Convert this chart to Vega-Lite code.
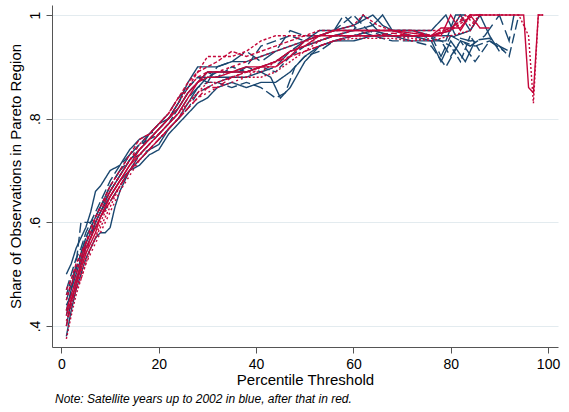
{
"$schema":"https://vega.github.io/schema/vega-lite/v6.json",
"width":506,"height":342,
"autosize":"none",
"padding":{"left":52,"top":5,"right":11,"bottom":65},
"background":"white",
"config":{"view":{"stroke":null},"font":"Liberation Sans"},
"title":{"text":"Note: Satellite years up to 2002 in blue, after that in red.","orient":"bottom","anchor":"start","frame":"group","fontSize":12,"fontStyle":"italic","fontWeight":"normal","font":"Liberation Sans","color":"#000","offset":7,"dx":3},
"data":{"values":[
{"s":"b1","x":1,"y":0.50},{"s":"b1","x":2,"y":0.52},{"s":"b1","x":3,"y":0.55},{"s":"b1","x":4,"y":0.57},{"s":"b1","x":5,"y":0.59},{"s":"b1","x":6,"y":0.62},{"s":"b1","x":7,"y":0.66},{"s":"b1","x":8,"y":0.67},{"s":"b1","x":10,"y":0.70},{"s":"b1","x":12,"y":0.71},{"s":"b1","x":14,"y":0.74},{"s":"b1","x":16,"y":0.76},{"s":"b1","x":18,"y":0.77},{"s":"b1","x":20,"y":0.79},{"s":"b1","x":22,"y":0.80},{"s":"b1","x":24,"y":0.83},{"s":"b1","x":26,"y":0.87},{"s":"b1","x":28,"y":0.90},{"s":"b1","x":30,"y":0.90},{"s":"b1","x":32,"y":0.90},{"s":"b1","x":35,"y":0.91},{"s":"b1","x":38,"y":0.91},{"s":"b1","x":41,"y":0.92},{"s":"b1","x":44,"y":0.93},{"s":"b1","x":47,"y":0.94},{"s":"b1","x":50,"y":0.95},{"s":"b1","x":53,"y":0.97},{"s":"b1","x":56,"y":0.97},{"s":"b1","x":60,"y":0.98},{"s":"b1","x":64,"y":1.0},{"s":"b1","x":66,"y":0.98},{"s":"b1","x":68,"y":0.97},{"s":"b1","x":72,"y":0.97},{"s":"b1","x":76,"y":0.97},{"s":"b1","x":79,"y":1.0},{"s":"b1","x":81,"y":0.96},{"s":"b1","x":84,"y":0.97},{"s":"b1","x":86,"y":1.0},
{"s":"b2","x":1,"y":0.42},{"s":"b2","x":2,"y":0.47},{"s":"b2","x":3,"y":0.52},{"s":"b2","x":4,"y":0.60},{"s":"b2","x":5,"y":0.60},{"s":"b2","x":6,"y":0.60},{"s":"b2","x":7,"y":0.61},{"s":"b2","x":8,"y":0.63},{"s":"b2","x":10,"y":0.66},{"s":"b2","x":12,"y":0.69},{"s":"b2","x":14,"y":0.72},{"s":"b2","x":16,"y":0.73},{"s":"b2","x":18,"y":0.74},{"s":"b2","x":20,"y":0.76},{"s":"b2","x":22,"y":0.78},{"s":"b2","x":24,"y":0.80},{"s":"b2","x":26,"y":0.82},{"s":"b2","x":28,"y":0.85},{"s":"b2","x":30,"y":0.86},{"s":"b2","x":32,"y":0.87},{"s":"b2","x":35,"y":0.86},{"s":"b2","x":38,"y":0.87},{"s":"b2","x":41,"y":0.86},{"s":"b2","x":44,"y":0.84},{"s":"b2","x":46,"y":0.85},{"s":"b2","x":48,"y":0.90},{"s":"b2","x":50,"y":0.92},{"s":"b2","x":53,"y":0.93},{"s":"b2","x":56,"y":0.95},{"s":"b2","x":60,"y":0.96},{"s":"b2","x":64,"y":0.96},{"s":"b2","x":68,"y":0.95},{"s":"b2","x":72,"y":0.95},{"s":"b2","x":76,"y":0.94},{"s":"b2","x":79,"y":0.90},{"s":"b2","x":82,"y":0.95},{"s":"b2","x":85,"y":0.94},{"s":"b2","x":88,"y":0.95},{"s":"b2","x":90,"y":0.94},{"s":"b2","x":92,"y":0.92},{"s":"b2","x":94,"y":1.0},
{"s":"b3","x":1,"y":0.38},{"s":"b3","x":2,"y":0.43},{"s":"b3","x":3,"y":0.47},{"s":"b3","x":4,"y":0.50},{"s":"b3","x":5,"y":0.53},{"s":"b3","x":6,"y":0.55},{"s":"b3","x":7,"y":0.57},{"s":"b3","x":8,"y":0.58},{"s":"b3","x":9,"y":0.58},{"s":"b3","x":10,"y":0.59},{"s":"b3","x":11,"y":0.63},{"s":"b3","x":12,"y":0.66},{"s":"b3","x":14,"y":0.70},{"s":"b3","x":16,"y":0.71},{"s":"b3","x":18,"y":0.73},{"s":"b3","x":20,"y":0.74},{"s":"b3","x":22,"y":0.77},{"s":"b3","x":24,"y":0.79},{"s":"b3","x":26,"y":0.81},{"s":"b3","x":28,"y":0.83},{"s":"b3","x":30,"y":0.84},{"s":"b3","x":32,"y":0.86},{"s":"b3","x":35,"y":0.87},{"s":"b3","x":38,"y":0.86},{"s":"b3","x":41,"y":0.87},{"s":"b3","x":44,"y":0.87},{"s":"b3","x":47,"y":0.89},{"s":"b3","x":50,"y":0.92},{"s":"b3","x":53,"y":0.94},{"s":"b3","x":56,"y":0.95},{"s":"b3","x":60,"y":0.95},{"s":"b3","x":64,"y":0.96},{"s":"b3","x":68,"y":0.96},{"s":"b3","x":72,"y":0.95},{"s":"b3","x":76,"y":0.95},{"s":"b3","x":78,"y":0.91},{"s":"b3","x":80,"y":0.95},{"s":"b3","x":83,"y":0.91},{"s":"b3","x":85,"y":0.95},
{"s":"b4","x":1,"y":0.46},{"s":"b4","x":2,"y":0.49},{"s":"b4","x":3,"y":0.51},{"s":"b4","x":4,"y":0.54},{"s":"b4","x":5,"y":0.57},{"s":"b4","x":6,"y":0.59},{"s":"b4","x":7,"y":0.61},{"s":"b4","x":8,"y":0.63},{"s":"b4","x":10,"y":0.67},{"s":"b4","x":12,"y":0.70},{"s":"b4","x":14,"y":0.73},{"s":"b4","x":16,"y":0.75},{"s":"b4","x":18,"y":0.76},{"s":"b4","x":20,"y":0.77},{"s":"b4","x":22,"y":0.79},{"s":"b4","x":24,"y":0.82},{"s":"b4","x":26,"y":0.85},{"s":"b4","x":28,"y":0.87},{"s":"b4","x":30,"y":0.89},{"s":"b4","x":32,"y":0.88},{"s":"b4","x":35,"y":0.90},{"s":"b4","x":38,"y":0.89},{"s":"b4","x":41,"y":0.90},{"s":"b4","x":44,"y":0.89},{"s":"b4","x":47,"y":0.92},{"s":"b4","x":50,"y":0.94},{"s":"b4","x":53,"y":0.95},{"s":"b4","x":56,"y":0.96},{"s":"b4","x":60,"y":0.96},{"s":"b4","x":64,"y":0.97},{"s":"b4","x":68,"y":0.96},{"s":"b4","x":72,"y":0.96},{"s":"b4","x":76,"y":0.96},{"s":"b4","x":80,"y":0.94},{"s":"b4","x":82,"y":0.91},{"s":"b4","x":84,"y":0.96},{"s":"b4","x":86,"y":0.93},
{"s":"b5","x":1,"y":0.44},{"s":"b5","x":2,"y":0.46},{"s":"b5","x":3,"y":0.49},{"s":"b5","x":4,"y":0.52},{"s":"b5","x":5,"y":0.56},{"s":"b5","x":6,"y":0.58},{"s":"b5","x":7,"y":0.59},{"s":"b5","x":8,"y":0.61},{"s":"b5","x":10,"y":0.64},{"s":"b5","x":12,"y":0.67},{"s":"b5","x":14,"y":0.70},{"s":"b5","x":16,"y":0.73},{"s":"b5","x":18,"y":0.75},{"s":"b5","x":20,"y":0.77},{"s":"b5","x":22,"y":0.79},{"s":"b5","x":24,"y":0.81},{"s":"b5","x":26,"y":0.84},{"s":"b5","x":28,"y":0.86},{"s":"b5","x":30,"y":0.87},{"s":"b5","x":32,"y":0.90},{"s":"b5","x":35,"y":0.91},{"s":"b5","x":38,"y":0.93},{"s":"b5","x":41,"y":0.91},{"s":"b5","x":44,"y":0.93},{"s":"b5","x":47,"y":0.97},{"s":"b5","x":50,"y":0.96},{"s":"b5","x":53,"y":0.96},{"s":"b5","x":56,"y":0.97},{"s":"b5","x":60,"y":0.97},{"s":"b5","x":62,"y":1.0},{"s":"b5","x":65,"y":0.97},{"s":"b5","x":68,"y":0.97},{"s":"b5","x":72,"y":0.96},{"s":"b5","x":76,"y":0.96},{"s":"b5","x":80,"y":0.96},{"s":"b5","x":84,"y":0.95},{"s":"b5","x":88,"y":0.955},{"s":"b5","x":90,"y":0.94},{"s":"b5","x":92,"y":0.93},
{"s":"b6","x":1,"y":0.40},{"s":"b6","x":2,"y":0.45},{"s":"b6","x":3,"y":0.48},{"s":"b6","x":4,"y":0.52},{"s":"b6","x":5,"y":0.55},{"s":"b6","x":6,"y":0.57},{"s":"b6","x":7,"y":0.60},{"s":"b6","x":8,"y":0.62},{"s":"b6","x":10,"y":0.65},{"s":"b6","x":12,"y":0.68},{"s":"b6","x":14,"y":0.70},{"s":"b6","x":16,"y":0.72},{"s":"b6","x":18,"y":0.74},{"s":"b6","x":20,"y":0.75},{"s":"b6","x":22,"y":0.78},{"s":"b6","x":24,"y":0.80},{"s":"b6","x":26,"y":0.83},{"s":"b6","x":28,"y":0.86},{"s":"b6","x":30,"y":0.88},{"s":"b6","x":32,"y":0.88},{"s":"b6","x":35,"y":0.88},{"s":"b6","x":38,"y":0.88},{"s":"b6","x":41,"y":0.89},{"s":"b6","x":43,"y":0.88},{"s":"b6","x":45,"y":0.84},{"s":"b6","x":47,"y":0.86},{"s":"b6","x":50,"y":0.91},{"s":"b6","x":53,"y":0.94},{"s":"b6","x":56,"y":0.95},{"s":"b6","x":60,"y":0.96},{"s":"b6","x":64,"y":0.97},{"s":"b6","x":68,"y":0.96},{"s":"b6","x":72,"y":0.96},{"s":"b6","x":76,"y":0.95},{"s":"b6","x":79,"y":0.95},{"s":"b6","x":81,"y":1.0},{"s":"b6","x":83,"y":1.0},
{"s":"b7","x":1,"y":0.47},{"s":"b7","x":2,"y":0.50},{"s":"b7","x":3,"y":0.53},{"s":"b7","x":4,"y":0.55},{"s":"b7","x":5,"y":0.58},{"s":"b7","x":6,"y":0.60},{"s":"b7","x":7,"y":0.62},{"s":"b7","x":8,"y":0.64},{"s":"b7","x":10,"y":0.68},{"s":"b7","x":12,"y":0.71},{"s":"b7","x":14,"y":0.73},{"s":"b7","x":16,"y":0.75},{"s":"b7","x":18,"y":0.77},{"s":"b7","x":20,"y":0.79},{"s":"b7","x":22,"y":0.81},{"s":"b7","x":24,"y":0.84},{"s":"b7","x":26,"y":0.86},{"s":"b7","x":28,"y":0.88},{"s":"b7","x":30,"y":0.88},{"s":"b7","x":32,"y":0.89},{"s":"b7","x":35,"y":0.89},{"s":"b7","x":38,"y":0.90},{"s":"b7","x":41,"y":0.94},{"s":"b7","x":44,"y":0.95},{"s":"b7","x":47,"y":0.96},{"s":"b7","x":50,"y":0.95},{"s":"b7","x":53,"y":0.96},{"s":"b7","x":56,"y":0.97},{"s":"b7","x":60,"y":1.0},{"s":"b7","x":63,"y":0.97},{"s":"b7","x":66,"y":0.96},{"s":"b7","x":70,"y":0.96},{"s":"b7","x":74,"y":0.96},{"s":"b7","x":78,"y":0.95},{"s":"b7","x":80,"y":0.92},{"s":"b7","x":82,"y":0.95},{"s":"b7","x":85,"y":0.91},{"s":"b7","x":88,"y":0.95},{"s":"b7","x":91,"y":0.93},
{"s":"b8","x":1,"y":0.43},{"s":"b8","x":2,"y":0.47},{"s":"b8","x":3,"y":0.50},{"s":"b8","x":4,"y":0.53},{"s":"b8","x":5,"y":0.56},{"s":"b8","x":6,"y":0.58},{"s":"b8","x":7,"y":0.60},{"s":"b8","x":8,"y":0.62},{"s":"b8","x":10,"y":0.66},{"s":"b8","x":12,"y":0.69},{"s":"b8","x":14,"y":0.72},{"s":"b8","x":16,"y":0.74},{"s":"b8","x":18,"y":0.76},{"s":"b8","x":20,"y":0.78},{"s":"b8","x":22,"y":0.80},{"s":"b8","x":24,"y":0.82},{"s":"b8","x":26,"y":0.85},{"s":"b8","x":28,"y":0.87},{"s":"b8","x":30,"y":0.89},{"s":"b8","x":32,"y":0.89},{"s":"b8","x":35,"y":0.89},{"s":"b8","x":38,"y":0.89},{"s":"b8","x":41,"y":0.90},{"s":"b8","x":44,"y":0.91},{"s":"b8","x":47,"y":0.93},{"s":"b8","x":50,"y":0.94},{"s":"b8","x":53,"y":0.95},{"s":"b8","x":56,"y":0.96},{"s":"b8","x":60,"y":0.97},{"s":"b8","x":64,"y":0.98},{"s":"b8","x":66,"y":1.0},{"s":"b8","x":68,"y":0.97},{"s":"b8","x":72,"y":0.97},{"s":"b8","x":76,"y":0.96},{"s":"b8","x":80,"y":0.97},{"s":"b8","x":82,"y":1.0},{"s":"b8","x":84,"y":0.97},{"s":"b8","x":86,"y":1.0},{"s":"b8","x":88,"y":0.96},{"s":"b8","x":90,"y":0.93},
{"s":"b9","x":1,"y":0.45},{"s":"b9","x":2,"y":0.48},{"s":"b9","x":3,"y":0.51},{"s":"b9","x":4,"y":0.54},{"s":"b9","x":5,"y":0.57},{"s":"b9","x":6,"y":0.59},{"s":"b9","x":7,"y":0.61},{"s":"b9","x":8,"y":0.63},{"s":"b9","x":10,"y":0.67},{"s":"b9","x":12,"y":0.70},{"s":"b9","x":14,"y":0.72},{"s":"b9","x":16,"y":0.74},{"s":"b9","x":18,"y":0.77},{"s":"b9","x":20,"y":0.78},{"s":"b9","x":22,"y":0.80},{"s":"b9","x":24,"y":0.83},{"s":"b9","x":26,"y":0.86},{"s":"b9","x":28,"y":0.88},{"s":"b9","x":30,"y":0.87},{"s":"b9","x":32,"y":0.87},{"s":"b9","x":35,"y":0.88},{"s":"b9","x":38,"y":0.90},{"s":"b9","x":41,"y":0.89},{"s":"b9","x":44,"y":0.90},{"s":"b9","x":47,"y":0.93},{"s":"b9","x":50,"y":0.95},{"s":"b9","x":53,"y":0.96},{"s":"b9","x":56,"y":0.97},{"s":"b9","x":58,"y":1.0},{"s":"b9","x":61,"y":0.97},{"s":"b9","x":64,"y":0.96},{"s":"b9","x":68,"y":0.96},{"s":"b9","x":72,"y":0.96},{"s":"b9","x":76,"y":0.96},{"s":"b9","x":78,"y":0.92},{"s":"b9","x":80,"y":0.96},{"s":"b9","x":84,"y":0.94},{"s":"b9","x":87,"y":0.96},{"s":"b9","x":90,"y":1.0},{"s":"b9","x":92,"y":0.95},{"s":"b9","x":93,"y":1.0},
{"s":"r1","x":1,"y":0.43},{"s":"r1","x":2,"y":0.46},{"s":"r1","x":3,"y":0.49},{"s":"r1","x":4,"y":0.52},{"s":"r1","x":5,"y":0.55},{"s":"r1","x":6,"y":0.57},{"s":"r1","x":7,"y":0.59},{"s":"r1","x":8,"y":0.61},{"s":"r1","x":10,"y":0.65},{"s":"r1","x":12,"y":0.68},{"s":"r1","x":14,"y":0.71},{"s":"r1","x":16,"y":0.73},{"s":"r1","x":18,"y":0.75},{"s":"r1","x":20,"y":0.77},{"s":"r1","x":22,"y":0.79},{"s":"r1","x":24,"y":0.81},{"s":"r1","x":26,"y":0.84},{"s":"r1","x":28,"y":0.87},{"s":"r1","x":30,"y":0.88},{"s":"r1","x":32,"y":0.88},{"s":"r1","x":35,"y":0.89},{"s":"r1","x":38,"y":0.89},{"s":"r1","x":41,"y":0.90},{"s":"r1","x":44,"y":0.90},{"s":"r1","x":47,"y":0.92},{"s":"r1","x":50,"y":0.95},{"s":"r1","x":53,"y":0.96},{"s":"r1","x":56,"y":0.97},{"s":"r1","x":60,"y":0.97},{"s":"r1","x":64,"y":0.97},{"s":"r1","x":68,"y":0.97},{"s":"r1","x":72,"y":0.965},{"s":"r1","x":76,"y":0.96},{"s":"r1","x":78,"y":0.975},{"s":"r1","x":80,"y":0.975},{"s":"r1","x":82,"y":0.975},{"s":"r1","x":84,"y":1.0},{"s":"r1","x":88,"y":1.0},{"s":"r1","x":92,"y":1.0},{"s":"r1","x":95,"y":1.0},{"s":"r1","x":96,"y":0.86},{"s":"r1","x":97,"y":0.85},{"s":"r1","x":98,"y":1.0},{"s":"r1","x":99,"y":1.0},
{"s":"r2","x":1,"y":0.375},{"s":"r2","x":2,"y":0.42},{"s":"r2","x":3,"y":0.46},{"s":"r2","x":4,"y":0.49},{"s":"r2","x":5,"y":0.52},{"s":"r2","x":6,"y":0.55},{"s":"r2","x":7,"y":0.57},{"s":"r2","x":8,"y":0.59},{"s":"r2","x":10,"y":0.63},{"s":"r2","x":12,"y":0.67},{"s":"r2","x":14,"y":0.70},{"s":"r2","x":16,"y":0.72},{"s":"r2","x":18,"y":0.74},{"s":"r2","x":20,"y":0.76},{"s":"r2","x":22,"y":0.78},{"s":"r2","x":24,"y":0.80},{"s":"r2","x":26,"y":0.83},{"s":"r2","x":28,"y":0.85},{"s":"r2","x":30,"y":0.86},{"s":"r2","x":32,"y":0.87},{"s":"r2","x":35,"y":0.88},{"s":"r2","x":38,"y":0.89},{"s":"r2","x":41,"y":0.89},{"s":"r2","x":44,"y":0.91},{"s":"r2","x":47,"y":0.93},{"s":"r2","x":50,"y":0.94},{"s":"r2","x":53,"y":0.95},{"s":"r2","x":56,"y":0.96},{"s":"r2","x":60,"y":0.96},{"s":"r2","x":64,"y":0.96},{"s":"r2","x":68,"y":0.96},{"s":"r2","x":72,"y":0.955},{"s":"r2","x":76,"y":0.95},{"s":"r2","x":80,"y":0.96},{"s":"r2","x":84,"y":0.97},{"s":"r2","x":86,"y":1.0},{"s":"r2","x":90,"y":1.0},{"s":"r2","x":94,"y":1.0},{"s":"r2","x":96,"y":0.96},{"s":"r2","x":97,"y":0.83},{"s":"r2","x":98,"y":1.0},{"s":"r2","x":99,"y":1.0},
{"s":"r3","x":1,"y":0.45},{"s":"r3","x":2,"y":0.48},{"s":"r3","x":3,"y":0.51},{"s":"r3","x":4,"y":0.53},{"s":"r3","x":5,"y":0.56},{"s":"r3","x":6,"y":0.58},{"s":"r3","x":7,"y":0.60},{"s":"r3","x":8,"y":0.62},{"s":"r3","x":10,"y":0.66},{"s":"r3","x":12,"y":0.69},{"s":"r3","x":14,"y":0.72},{"s":"r3","x":16,"y":0.74},{"s":"r3","x":18,"y":0.76},{"s":"r3","x":20,"y":0.78},{"s":"r3","x":22,"y":0.80},{"s":"r3","x":24,"y":0.83},{"s":"r3","x":26,"y":0.86},{"s":"r3","x":28,"y":0.89},{"s":"r3","x":30,"y":0.92},{"s":"r3","x":32,"y":0.92},{"s":"r3","x":35,"y":0.92},{"s":"r3","x":38,"y":0.93},{"s":"r3","x":41,"y":0.95},{"s":"r3","x":44,"y":0.96},{"s":"r3","x":47,"y":0.96},{"s":"r3","x":50,"y":0.96},{"s":"r3","x":53,"y":0.97},{"s":"r3","x":56,"y":0.97},{"s":"r3","x":60,"y":0.98},{"s":"r3","x":62,"y":1.0},{"s":"r3","x":65,"y":0.98},{"s":"r3","x":68,"y":0.97},{"s":"r3","x":72,"y":0.97},{"s":"r3","x":76,"y":0.97},{"s":"r3","x":80,"y":0.97},{"s":"r3","x":83,"y":0.99},{"s":"r3","x":85,"y":1.0},
{"s":"r4","x":1,"y":0.42},{"s":"r4","x":2,"y":0.45},{"s":"r4","x":3,"y":0.48},{"s":"r4","x":4,"y":0.51},{"s":"r4","x":5,"y":0.54},{"s":"r4","x":6,"y":0.56},{"s":"r4","x":7,"y":0.58},{"s":"r4","x":8,"y":0.61},{"s":"r4","x":10,"y":0.65},{"s":"r4","x":12,"y":0.68},{"s":"r4","x":14,"y":0.71},{"s":"r4","x":16,"y":0.74},{"s":"r4","x":18,"y":0.76},{"s":"r4","x":20,"y":0.78},{"s":"r4","x":22,"y":0.80},{"s":"r4","x":24,"y":0.82},{"s":"r4","x":26,"y":0.85},{"s":"r4","x":28,"y":0.87},{"s":"r4","x":30,"y":0.89},{"s":"r4","x":32,"y":0.89},{"s":"r4","x":35,"y":0.89},{"s":"r4","x":38,"y":0.90},{"s":"r4","x":41,"y":0.90},{"s":"r4","x":44,"y":0.91},{"s":"r4","x":47,"y":0.93},{"s":"r4","x":50,"y":0.94},{"s":"r4","x":53,"y":0.96},{"s":"r4","x":56,"y":0.96},{"s":"r4","x":60,"y":0.96},{"s":"r4","x":64,"y":0.96},{"s":"r4","x":68,"y":0.96},{"s":"r4","x":72,"y":0.96},{"s":"r4","x":76,"y":0.96},{"s":"r4","x":78,"y":0.96},{"s":"r4","x":80,"y":1.0},{"s":"r4","x":82,"y":0.97},{"s":"r4","x":84,"y":1.0},{"s":"r4","x":86,"y":0.975},{"s":"r4","x":88,"y":0.975},
{"s":"r5","x":1,"y":0.41},{"s":"r5","x":2,"y":0.44},{"s":"r5","x":3,"y":0.47},{"s":"r5","x":4,"y":0.50},{"s":"r5","x":5,"y":0.53},{"s":"r5","x":6,"y":0.55},{"s":"r5","x":7,"y":0.57},{"s":"r5","x":8,"y":0.60},{"s":"r5","x":10,"y":0.64},{"s":"r5","x":12,"y":0.67},{"s":"r5","x":14,"y":0.70},{"s":"r5","x":16,"y":0.73},{"s":"r5","x":18,"y":0.75},{"s":"r5","x":20,"y":0.77},{"s":"r5","x":22,"y":0.79},{"s":"r5","x":24,"y":0.81},{"s":"r5","x":26,"y":0.83},{"s":"r5","x":28,"y":0.85},{"s":"r5","x":30,"y":0.87},{"s":"r5","x":32,"y":0.87},{"s":"r5","x":35,"y":0.88},{"s":"r5","x":38,"y":0.88},{"s":"r5","x":41,"y":0.88},{"s":"r5","x":44,"y":0.89},{"s":"r5","x":47,"y":0.91},{"s":"r5","x":50,"y":0.93},{"s":"r5","x":53,"y":0.94},{"s":"r5","x":56,"y":0.95},{"s":"r5","x":60,"y":0.955},{"s":"r5","x":64,"y":0.955},{"s":"r5","x":68,"y":0.955},{"s":"r5","x":72,"y":0.95},{"s":"r5","x":76,"y":0.955},
{"s":"r6","x":1,"y":0.47},{"s":"r6","x":2,"y":0.49},{"s":"r6","x":3,"y":0.52},{"s":"r6","x":4,"y":0.54},{"s":"r6","x":5,"y":0.56},{"s":"r6","x":6,"y":0.58},{"s":"r6","x":7,"y":0.61},{"s":"r6","x":8,"y":0.63},{"s":"r6","x":10,"y":0.67},{"s":"r6","x":12,"y":0.70},{"s":"r6","x":14,"y":0.73},{"s":"r6","x":16,"y":0.76},{"s":"r6","x":18,"y":0.77},{"s":"r6","x":20,"y":0.79},{"s":"r6","x":22,"y":0.81},{"s":"r6","x":24,"y":0.84},{"s":"r6","x":26,"y":0.87},{"s":"r6","x":28,"y":0.89},{"s":"r6","x":30,"y":0.90},{"s":"r6","x":32,"y":0.91},{"s":"r6","x":35,"y":0.93},{"s":"r6","x":38,"y":0.92},{"s":"r6","x":41,"y":0.93},{"s":"r6","x":44,"y":0.94},{"s":"r6","x":47,"y":0.95},{"s":"r6","x":50,"y":0.96},{"s":"r6","x":53,"y":0.96},{"s":"r6","x":56,"y":0.97},{"s":"r6","x":60,"y":0.97},{"s":"r6","x":64,"y":0.97},{"s":"r6","x":68,"y":0.97},{"s":"r6","x":72,"y":0.97},{"s":"r6","x":76,"y":0.96},{"s":"r6","x":80,"y":0.97},
{"s":"r7","x":1,"y":0.43},{"s":"r7","x":2,"y":0.45},{"s":"r7","x":3,"y":0.47},{"s":"r7","x":4,"y":0.49},{"s":"r7","x":5,"y":0.52},{"s":"r7","x":6,"y":0.54},{"s":"r7","x":7,"y":0.56},{"s":"r7","x":8,"y":0.58},{"s":"r7","x":10,"y":0.62},{"s":"r7","x":12,"y":0.66},{"s":"r7","x":14,"y":0.69},{"s":"r7","x":16,"y":0.72},{"s":"r7","x":18,"y":0.74},{"s":"r7","x":20,"y":0.76},{"s":"r7","x":22,"y":0.78},{"s":"r7","x":24,"y":0.80},{"s":"r7","x":26,"y":0.82},{"s":"r7","x":28,"y":0.84},{"s":"r7","x":30,"y":0.85},{"s":"r7","x":32,"y":0.86},{"s":"r7","x":35,"y":0.87},{"s":"r7","x":38,"y":0.88},{"s":"r7","x":41,"y":0.90},{"s":"r7","x":44,"y":0.90},{"s":"r7","x":47,"y":0.92},{"s":"r7","x":50,"y":0.93},{"s":"r7","x":53,"y":0.95},{"s":"r7","x":56,"y":0.96},{"s":"r7","x":60,"y":0.96},{"s":"r7","x":64,"y":0.97},{"s":"r7","x":68,"y":0.97},{"s":"r7","x":72,"y":0.96},{"s":"r7","x":76,"y":0.96},{"s":"r7","x":80,"y":0.97},{"s":"r7","x":82,"y":1.0},{"s":"r7","x":84,"y":0.98},{"s":"r7","x":86,"y":1.0},
{"s":"r8","x":1,"y":0.46},{"s":"r8","x":2,"y":0.48},{"s":"r8","x":3,"y":0.50},{"s":"r8","x":4,"y":0.53},{"s":"r8","x":5,"y":0.56},{"s":"r8","x":6,"y":0.59},{"s":"r8","x":7,"y":0.61},{"s":"r8","x":8,"y":0.63},{"s":"r8","x":10,"y":0.66},{"s":"r8","x":12,"y":0.69},{"s":"r8","x":14,"y":0.72},{"s":"r8","x":16,"y":0.75},{"s":"r8","x":18,"y":0.77},{"s":"r8","x":20,"y":0.79},{"s":"r8","x":22,"y":0.81},{"s":"r8","x":24,"y":0.84},{"s":"r8","x":26,"y":0.86},{"s":"r8","x":28,"y":0.88},{"s":"r8","x":30,"y":0.89},{"s":"r8","x":32,"y":0.89},{"s":"r8","x":35,"y":0.90},{"s":"r8","x":38,"y":0.91},{"s":"r8","x":41,"y":0.92},{"s":"r8","x":44,"y":0.93},{"s":"r8","x":47,"y":0.94},{"s":"r8","x":50,"y":0.95},{"s":"r8","x":53,"y":0.95},{"s":"r8","x":56,"y":0.96},{"s":"r8","x":60,"y":0.97},{"s":"r8","x":64,"y":0.97},{"s":"r8","x":68,"y":0.97},{"s":"r8","x":72,"y":0.96},{"s":"r8","x":76,"y":0.96},{"s":"r8","x":80,"y":0.97},{"s":"r8","x":83,"y":1.0},{"s":"r8","x":85,"y":0.98},
{"s":"r9","x":1,"y":0.40},{"s":"r9","x":2,"y":0.44},{"s":"r9","x":3,"y":0.48},{"s":"r9","x":4,"y":0.51},{"s":"r9","x":5,"y":0.54},{"s":"r9","x":6,"y":0.57},{"s":"r9","x":7,"y":0.59},{"s":"r9","x":8,"y":0.61},{"s":"r9","x":10,"y":0.64},{"s":"r9","x":12,"y":0.67},{"s":"r9","x":14,"y":0.70},{"s":"r9","x":16,"y":0.72},{"s":"r9","x":18,"y":0.74},{"s":"r9","x":20,"y":0.76},{"s":"r9","x":22,"y":0.78},{"s":"r9","x":24,"y":0.80},{"s":"r9","x":26,"y":0.82},{"s":"r9","x":28,"y":0.84},{"s":"r9","x":30,"y":0.86},{"s":"r9","x":32,"y":0.86},{"s":"r9","x":35,"y":0.88},{"s":"r9","x":38,"y":0.89},{"s":"r9","x":41,"y":0.90},{"s":"r9","x":44,"y":0.91},{"s":"r9","x":47,"y":0.92},{"s":"r9","x":50,"y":0.93},{"s":"r9","x":53,"y":0.94},{"s":"r9","x":56,"y":0.95},{"s":"r9","x":60,"y":0.96},{"s":"r9","x":64,"y":0.96},{"s":"r9","x":68,"y":0.965},{"s":"r9","x":72,"y":0.96},{"s":"r9","x":76,"y":0.96},{"s":"r9","x":80,"y":0.975},{"s":"r9","x":84,"y":1.0},{"s":"r9","x":87,"y":1.0}
]},
"encoding":{
"x":{"field":"x","type":"quantitative","scale":{"domain":[-1.95,102.05],"nice":false,"zero":false},
"axis":{"values":[0,20,40,60,80,100],"title":"Percentile Threshold","grid":false,"domainColor":"#555","tickColor":"#555","tickSize":6,"labelFontSize":14,"titleFontSize":15,"labelColor":"#000","titleColor":"#000","titleFontWeight":"normal","labelPadding":4,"titlePadding":1,"labelFont":"Liberation Sans","titleFont":"Liberation Sans"}},
"y":{"field":"y","type":"quantitative","scale":{"domain":[0.3595,1.0193],"nice":false,"zero":false},
"axis":{"values":[0.4,0.6,0.8,1],"labelExpr":"datum.value==1?'1':replace(format(datum.value,'.1f'),'0.','.')","title":"Share of Observations in Pareto Region","grid":true,"gridColor":"#e3ebef","gridWidth":1,"domainColor":"#555","tickColor":"#555","tickSize":6,"labelFontSize":14,"titleFontSize":15,"labelColor":"#000","titleColor":"#000","titleFontWeight":"normal","labelAngle":270,"labelAlign":"center","labelBaseline":"bottom","labelPadding":4,"titlePadding":5,"labelFont":"Liberation Sans","titleFont":"Liberation Sans"}}
},
"layer":[
{"transform":[{"filter":"indexof(datum.s,'b')==0"}],
"mark":{"type":"line","strokeWidth":1.4,"color":"#1a476f","clip":true},
"encoding":{"strokeDash":{"field":"s","type":"nominal","legend":null,
"scale":{"domain":["b1","b2","b3","b4","b5","b6","b7","b8","b9","r1","r2","r3","r4","r5","r6","r7","r8","r9"],
"range":[[1,0],[10,4],[1,0],[6,3],[14,5],[1,0],[10,4],[1,0],[16,6],[1,0],[2,2],[3,2],[1,0],[2,2],[4,2],[2,3],[3,3],[6,3]]}}}},
{"transform":[{"filter":"indexof(datum.s,'r')==0"}],
"mark":{"type":"line","strokeWidth":1.4,"color":"#c4073a","clip":true},
"encoding":{"strokeDash":{"field":"s","type":"nominal","legend":null,
"scale":{"domain":["b1","b2","b3","b4","b5","b6","b7","b8","b9","r1","r2","r3","r4","r5","r6","r7","r8","r9"],
"range":[[1,0],[10,4],[1,0],[6,3],[14,5],[1,0],[10,4],[1,0],[16,6],[1,0],[2,2],[3,2],[1,0],[2,2],[4,2],[2,3],[3,3],[6,3]]}}}}
]
}
